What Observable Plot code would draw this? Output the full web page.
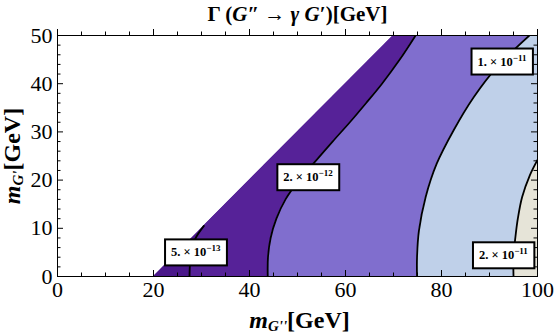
<!DOCTYPE html>
<html><head><meta charset="utf-8">
<script src="https://cdn.jsdelivr.net/npm/d3@7"></script>
<script src="https://cdn.jsdelivr.net/npm/@observablehq/plot@0.6"></script>
<style>html,body{margin:0;padding:0;background:#fff} svg{display:block}</style>
</head><body><div id="chart"></div>
<script>
// ---- axes / ticks ----
const xDomain = [0, 100];
const yDomain = [0, 50];
const xMajor = [0, 20, 40, 60, 80, 100];
const xMinor = [5, 10, 15, 25, 30, 35, 45, 50, 55, 65, 70, 75, 85, 90, 95];
const yMajor = [0, 10, 20, 30, 40, 50];
const yMinor = [2, 4, 6, 8, 12, 14, 16, 18, 22, 24, 26, 28, 32, 34, 36, 38, 42, 44, 46, 48];

// ---- texts ----
const titleParts = [{t: "Γ ("}, {t: "G", italic: true}, {t: "″ → "}, {t: "γ", italic: true}, {t: " "}, {t: "G", italic: true}, {t: "′)[GeV]"}];
const xLabelParts = [{t: "m", italic: true}, {t: "G''", italic: true, size: 15, shift: 3}, {t: "[GeV]", shift: 0}];
const yLabelParts = [{t: "m", italic: true}, {t: "G'", italic: true, size: 15, shift: 3}, {t: "[GeV]", shift: 0}];

// ---- contour data (m_G'' = x, m_G' = y) ----
const kinEdge = [{x: 20, y: 0}, {x: 70, y: 50}];           // kinematic boundary
const c5e13 = [{y: 0, x: 27.5}, {y: 2.5, x: 27.6}, {y: 5, x: 27.9}, {y: 7.8, x: 28.7}, {y: 10.5, x: 30.5}];
const c2e12 = [{y: 0, x: 43.8}, {y: 4, x: 43.85}, {y: 8, x: 44.4}, {y: 12, x: 45.6}, {y: 16, x: 47.5}, {y: 20, x: 50.3}, {y: 24, x: 53.8}, {y: 28, x: 57.3}, {y: 32, x: 60.9}, {y: 36, x: 64.3}, {y: 40, x: 67.6}, {y: 45, x: 71.3}, {y: 50, x: 74.6}];
const c1e11 = [{y: 0, x: 74.9}, {y: 4, x: 74.9}, {y: 9.5, x: 75.3}, {y: 16.5, x: 76.7}, {y: 23.4, x: 79.0}, {y: 30.3, x: 82.5}, {y: 37.2, x: 86.7}, {y: 43.4, x: 91.5}, {y: 50, x: 98.3}];
const c2e11 = [{y: 0, x: 95.0}, {y: 4, x: 95.0}, {y: 8.2, x: 95.4}, {y: 12, x: 95.9}, {y: 16.5, x: 96.8}, {y: 21, x: 98.4}, {y: 24.2, x: 100}];
const fills = ["#4a178a", "#562298", "#806ece", "#bfd0e9", "#e6e4d8"];
const contourLabels = [
  {x: 28.8, y: 5.0, mant: "5.", exp: "−13"},
  {x: 52.2, y: 20.6, mant: "2.", exp: "−12"},
  {x: 92.6, y: 44.6, mant: "1.", exp: "−11"},
  {x: 92.9, y: 4.4, mant: "2.", exp: "−11"}
];

const serif = "'Liberation Serif', 'Times New Roman', serif";
const W = 557, H = 335, mL = 57, mR = 20, mT = 35, mB = 59;
const minorLen = 3.5, majorLen = 6;
const lineOpts = {x: "x", y: "y", stroke: "black", strokeWidth: 1.8, curve: "catmull-rom", clip: true};
const areaOpts = (fill, curve) => ({y: "y", x1: "x", x2: xDomain[1], fill, curve, clip: true});
const tk = {stroke: "black", strokeWidth: 1};

const plot = Plot.plot({
  width: W, height: H,
  marginLeft: mL, marginRight: mR, marginTop: mT, marginBottom: mB,
  style: {fontFamily: serif, fontSize: "22px", background: "white", color: "black", overflow: "visible"},
  x: {domain: xDomain, ticks: xMajor, tickSize: 0, tickPadding: 5, label: null},
  y: {domain: yDomain, ticks: yMajor, tickSize: 0, tickPadding: 5, label: null},
  marks: [
    Plot.areaX(kinEdge, areaOpts(fills[0], "linear")),
    Plot.areaX([...c5e13, kinEdge[1]], areaOpts(fills[1], "linear")),
    Plot.areaX(c2e12, areaOpts(fills[2], "catmull-rom")),
    Plot.areaX(c1e11, areaOpts(fills[3], "catmull-rom")),
    Plot.areaX(c2e11, areaOpts(fills[4], "catmull-rom")),
    Plot.line(c5e13, lineOpts),
    Plot.line(c2e12, lineOpts),
    Plot.line(c1e11, lineOpts),
    Plot.line(c2e11, lineOpts),
    Plot.frame({stroke: "black", strokeWidth: 1}),
    // inward frame ticks on all four sides
    Plot.ruleX(xMinor, {x: d => d, y1: yDomain[0], y2: yDomain[0], insetBottom: minorLen, ...tk}),
    Plot.ruleX(xMinor, {x: d => d, y1: yDomain[1], y2: yDomain[1], insetTop: -minorLen, ...tk}),
    Plot.ruleX(xMajor, {x: d => d, y1: yDomain[0], y2: yDomain[0], insetBottom: majorLen, ...tk}),
    Plot.ruleX(xMajor, {x: d => d, y1: yDomain[1], y2: yDomain[1], insetTop: -majorLen, ...tk}),
    Plot.ruleY(yMinor, {y: d => d, x1: xDomain[0], x2: xDomain[0], insetRight: -minorLen, ...tk}),
    Plot.ruleY(yMinor, {y: d => d, x1: xDomain[1], x2: xDomain[1], insetLeft: -minorLen, ...tk}),
    Plot.ruleY(yMajor, {y: d => d, x1: xDomain[0], x2: xDomain[0], insetRight: -majorLen, ...tk}),
    Plot.ruleY(yMajor, {y: d => d, x1: xDomain[1], x2: xDomain[1], insetLeft: -majorLen, ...tk}),
    Plot.text(["TITLE"], {text: d => d, frameAnchor: "top", textAnchor: "middle", lineAnchor: "middle", dy: -21.5, fontSize: 21, fontWeight: "bold"}),
    Plot.text(["XLABEL"], {text: d => d, frameAnchor: "bottom", textAnchor: "middle", lineAnchor: "middle", dy: 44.3, dx: 2, fontSize: 24, fontWeight: "bold"}),
    Plot.text(["YLABEL"], {text: d => d, frameAnchor: "left", textAnchor: "middle", lineAnchor: "middle", dx: -45.4, dy: 0, rotate: -90, fontSize: 24, fontWeight: "bold"}),
    Plot.text(contourLabels, {x: "x", y: "y", text: d => `${d.mant} × 10`, fontSize: 12.5, fontWeight: "bold", fill: "black"})
  ]
});
document.getElementById("chart").appendChild(plot);

const NS = "http://www.w3.org/2000/svg";
function setRich(el, parts) {
  el.textContent = "";
  let shift = 0;
  for (const p of parts) {
    const ts = document.createElementNS(NS, "tspan");
    ts.textContent = p.t;
    if (p.italic) ts.setAttribute("font-style", "italic");
    if (p.size) ts.setAttribute("font-size", p.size);
    const target = p.shift || 0;
    if (target !== shift) { ts.setAttribute("dy", target - shift); shift = target; }
    el.appendChild(ts);
  }
}
const labelEls = [];
d3.select(plot).selectAll("text").each(function() {
  const s = this.textContent;
  if (s === "TITLE") setRich(this, titleParts);
  else if (s === "XLABEL") setRich(this, xLabelParts);
  else if (s === "YLABEL") setRich(this, yLabelParts);
  else if (/× 10$/.test(s)) labelEls.push(this);
});
labelEls.forEach((el, i) => {
  const d = contourLabels[i];
  setRich(el, [{t: `${d.mant} × 10`}, {t: d.exp, size: 9, shift: -5}]);
  const bb = el.getBBox();
  const cx = bb.x + bb.width / 2, cy = bb.y + bb.height / 2;
  const bw = bb.width + 12, bh = 26;
  const r = document.createElementNS(NS, "rect");
  r.setAttribute("x", cx - bw / 2);
  r.setAttribute("y", cy - bh / 2 + 1);
  r.setAttribute("width", bw);
  r.setAttribute("height", bh);
  r.setAttribute("fill", "white");
  r.setAttribute("stroke", "black");
  r.setAttribute("stroke-width", 2);
  const tr = el.getAttribute("transform");
  if (tr) r.setAttribute("transform", tr);
  el.parentNode.insertBefore(r, el);
});
</script>
</body></html>
